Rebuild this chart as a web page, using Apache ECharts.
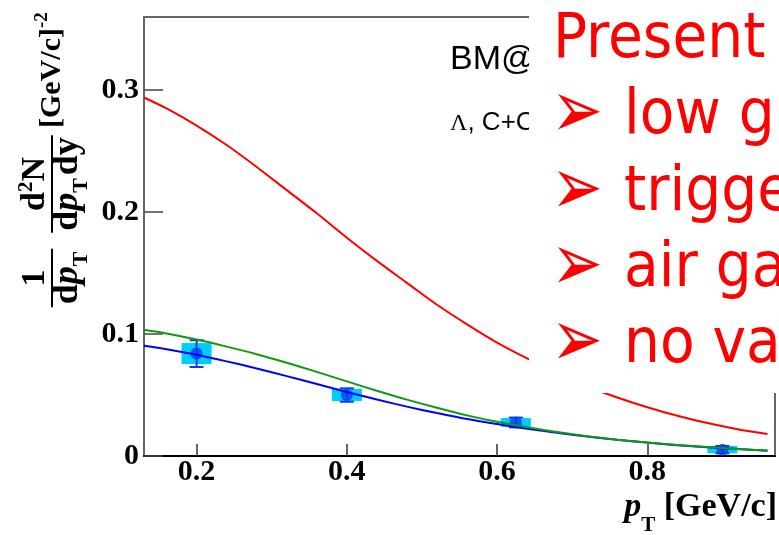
<!DOCTYPE html>
<html>
<head>
<meta charset="utf-8">
<script src="https://cdn.jsdelivr.net/npm/echarts@6/dist/echarts.min.js"></script>
<style>
  html, body { margin: 0; padding: 0; background: #fff; }
  #chart { width: 779px; height: 535px; }
</style>
</head>
<body>
<div id="chart"></div>
<script>
// Lambda pT spectrum, C+C, with model curves
const ptGrid = [0.13, 0.16, 0.20, 0.24, 0.28, 0.32, 0.36, 0.40, 0.44, 0.48, 0.52,
                0.56, 0.60, 0.64, 0.68, 0.72, 0.76, 0.80, 0.84, 0.88, 0.92, 0.96];
const redCurve = [0.294, 0.285, 0.271, 0.255, 0.237, 0.218, 0.199, 0.179, 0.160, 0.142, 0.124,
                  0.108, 0.093, 0.080, 0.068, 0.057, 0.048, 0.040, 0.033, 0.027, 0.022, 0.018];
const blueCurve = [0.0904, 0.0876, 0.0830, 0.0776, 0.0718, 0.0655, 0.0590, 0.0525, 0.0463, 0.0405, 0.0352,
                   0.0303, 0.0262, 0.0224, 0.0190, 0.0160, 0.0133, 0.0110, 0.0089, 0.0072, 0.0057, 0.0044];
const greenCurve = [0.1035, 0.1005, 0.0955, 0.0897, 0.0835, 0.0765, 0.0690, 0.0612, 0.0535, 0.0462, 0.0395,
                    0.0333, 0.0280, 0.0235, 0.0196, 0.0162, 0.0134, 0.0110, 0.0090, 0.0073, 0.0058, 0.0045];

const pointPt = [0.2, 0.4, 0.625, 0.9];
const pointYield = [0.084, 0.050, 0.0275, 0.0052];
const statErr = [0.011, 0.0055, 0.004, 0.003];
const sysErr = [0.0086, 0.005, 0.0036, 0.003];
const binHalfWidth = [0.02, 0.02, 0.02, 0.02];

const xTicks = [0.2, 0.4, 0.6, 0.8];
const yTicks = [0, 0.1, 0.2, 0.3];

const systemLabel = 'BM@N';
const reactionLabel = ['Λ', ', C+C'];
const noteTitle = 'Present';
const noteBullet = '➢';
const noteItems = ['low g', 'trigge', 'air ga', 'no va'];

const chart = echarts.init(document.getElementById('chart'));

const measureCtx = document.createElement('canvas').getContext('2d');
function textWidth(text, font) { measureCtx.font = font; return measureCtx.measureText(text).width; }
function fontSize(font) { return parseFloat(font.match(/([\d.]+)px/)[1]); }

// Lay out a row of tokens [text, font, baselineShift, extraGap] on a common baseline.
function tokenRow(tokens, x0, baseline, align, color) {
  const total = tokens.reduce((s, t) => s + textWidth(t[0], t[1]) + (t[3] || 0), 0);
  let x = align === 'center' ? x0 - total / 2 : align === 'right' ? x0 - total : x0;
  return tokens.map(t => {
    const el = {
      type: 'text', x: x, y: baseline + (t[2] || 0) - 0.34 * fontSize(t[1]),
      style: { text: t[0], font: t[1], fill: color || '#000', textAlign: 'left',
               verticalAlign: 'middle', textVerticalAlign: 'middle' }
    };
    x += textWidth(t[0], t[1]) + (t[3] || 0);
    return el;
  });
}
function rowWidth(tokens) { return tokens.reduce((s, t) => s + textWidth(t[0], t[1]) + (t[3] || 0), 0); }

const SERIF_B = 'bold 34px "Liberation Serif"';
const SERIF_SUB = 'bold 21px "Liberation Serif"';
const DEN_B = 'bold 36px "Liberation Serif"';
const DEN_BI = 'italic bold 36px "Liberation Serif"';
const DEN_SUB = 'bold 22px "Liberation Serif"';
const UNIT_B = 'bold 30px "Liberation Serif"';
const UNIT_SUP = 'bold 19px "Liberation Serif"';
const AX_B = 'bold 34px "Liberation Serif"';
const AX_BI = 'italic bold 34px "Liberation Serif"';
const AX_SUB = 'bold 21px "Liberation Serif"';

// y-axis title, laid out horizontally then turned upright
const num1 = [['1', SERIF_B]];
const den1 = [['d', DEN_B], ['p', DEN_BI], ['T', DEN_SUB, 9]];
const num2 = [['d', SERIF_B], ['2', SERIF_SUB, -13], ['N', SERIF_B]];
const den2 = [['d', DEN_B], ['p', DEN_BI], ['T', DEN_SUB, 9, 3], ['dy', DEN_B]];
const frac1Mid = 28, frac2Mid = 122;
const bar1Half = Math.max(rowWidth(num1), rowWidth(den1)) / 2 + 3;
const bar2Half = Math.max(rowWidth(num2), rowWidth(den2)) / 2 + 2;
const yTitle = [].concat(
  tokenRow(num1, frac1Mid, -5, 'center'),
  tokenRow(den1, frac1Mid, 28, 'center'),
  tokenRow(num2, frac2Mid, -5, 'center'),
  tokenRow(den2, frac2Mid, 28, 'center'),
  tokenRow([['[GeV/c]', UNIT_B], ['-2', UNIT_SUP, -13]], 178, 10, 'left'),
  [
    { type: 'line', shape: { x1: frac1Mid - bar1Half, y1: 0, x2: frac1Mid + bar1Half, y2: 0 }, style: { stroke: '#000', lineWidth: 2 } },
    { type: 'line', shape: { x1: frac2Mid - bar2Half, y1: 0, x2: frac2Mid + bar2Half, y2: 0 }, style: { stroke: '#000', lineWidth: 2 } }
  ]
);

const xTitle = tokenRow([['p', AX_BI], ['T', AX_SUB, 14], [' [GeV/c]', AX_B]], 777, 519, 'right');

const NOTE_FONT = '63px "DejaVu Sans Condensed", "DejaVu Sans"';
const BULLET_FONT = '62px "DejaVu Sans"';
const noteBaselines = [138, 215, 291, 367];
const bullets = noteItems.map((t, i) => {
  const el = tokenRow([[noteBullet, BULLET_FONT]], 551, noteBaselines[i] - 8, 'left', '#ff0000')[0];
  el.y = noteBaselines[i] - 22;
  el.scaleY = 1.3;
  return el;
});
const noteElems = [
  { type: 'rect', shape: { x: 529, y: 0, width: 260, height: 393 }, style: { fill: '#fff' }, z: 100 }
].concat(
  tokenRow([[noteTitle, NOTE_FONT]], 553, 62, 'left', '#ff0000'),
  bullets,
  ...noteItems.map((t, i) => tokenRow([[t, NOTE_FONT]], 624, noteBaselines[i], 'left', '#ff0000'))
);
noteElems.forEach((e, i) => { if (i > 0) e.z = 101; });

const curveData = arr => ptGrid.map((x, i) => [x, arr[i]]);
const pointData = pointPt.map((x, i) => [x, pointYield[i], statErr[i], sysErr[i], binHalfWidth[i]]);

chart.setOption({
  animation: false,
  backgroundColor: '#fff',
  grid: { left: 144, right: 4, top: 17, bottom: 79, show: true, borderColor: '#666', borderWidth: 2 },
  xAxis: {
    type: 'value', min: 0.13, max: 0.97,
    axisLine: { lineStyle: { color: '#000', width: 2 } },
    axisTick: { inside: true, length: 12, customValues: xTicks, lineStyle: { color: '#333', width: 1.5 } },
    axisLabel: { customValues: xTicks, formatter: v => v.toFixed(1), margin: 1,
                 fontFamily: 'Liberation Serif', fontWeight: 'bold', fontSize: 30, color: '#000' },
    splitLine: { show: false }
  },
  yAxis: {
    type: 'value', min: 0, max: 0.36,
    axisLine: { lineStyle: { color: '#666', width: 2 } },
    axisTick: { inside: true, length: 19, customValues: yTicks, lineStyle: { color: '#444', width: 1.5 } },
    axisLabel: { customValues: yTicks, formatter: v => (v === 0 ? '0' : v.toFixed(1)), margin: 5,
                 fontFamily: 'Liberation Serif', fontWeight: 'bold', fontSize: 30, color: '#000' },
    splitLine: { show: false }
  },
  graphic: [
    { type: 'group', x: 52, y: 306, rotation: Math.PI / 2, children: yTitle },
    ...xTitle,
    tokenRow([[systemLabel, '34px "Liberation Sans"']], 450, 71, 'left'),
    tokenRow([[reactionLabel[0], '24px "Liberation Serif"'], [reactionLabel[1], '26px "Liberation Sans"']], 450, 132, 'left'),
    ...noteElems
  ].flat(),
  series: [
    {
      type: 'custom', z: 1,
      renderItem: (params, api) => {
        const x = api.value(0), y = api.value(1), s = api.value(3), h = api.value(4);
        const p0 = api.coord([x - h, y + s]), p1 = api.coord([x + h, y - s]);
        return { type: 'rect', shape: { x: p0[0], y: p0[1], width: p1[0] - p0[0], height: p1[1] - p0[1] },
                 style: { fill: '#00ccff' } };
      },
      data: pointData
    },
    {
      type: 'custom', z: 2,
      renderItem: (params, api) => {
        const x = api.value(0), y = api.value(1), e = api.value(2);
        const top = api.coord([x, y + e]), bot = api.coord([x, y - e]);
        const cap = 7;
        const st = { stroke: '#0a3cf5', lineWidth: 2 };
        return { type: 'group', children: [
          { type: 'line', shape: { x1: top[0], y1: top[1], x2: bot[0], y2: bot[1] }, style: st },
          { type: 'line', shape: { x1: top[0] - cap, y1: top[1], x2: top[0] + cap, y2: top[1] }, style: st },
          { type: 'line', shape: { x1: bot[0] - cap, y1: bot[1], x2: bot[0] + cap, y2: bot[1] }, style: st }
        ] };
      },
      data: pointData
    },
    { type: 'scatter', z: 3, symbol: 'circle', symbolSize: 12, itemStyle: { color: '#0a3cf5' },
      data: pointData.map(d => [d[0], d[1]]) },
    { type: 'line', z: 4, showSymbol: false, smooth: 0.3, lineStyle: { color: '#ff0000', width: 2 }, data: curveData(redCurve) },
    { type: 'line', z: 4, showSymbol: false, smooth: 0.3, lineStyle: { color: '#0000ff', width: 2 }, data: curveData(blueCurve) },
    { type: 'line', z: 5, showSymbol: false, smooth: 0.3, lineStyle: { color: '#109a10', width: 2 }, data: curveData(greenCurve) }
  ]
});
</script>
</body>
</html>
